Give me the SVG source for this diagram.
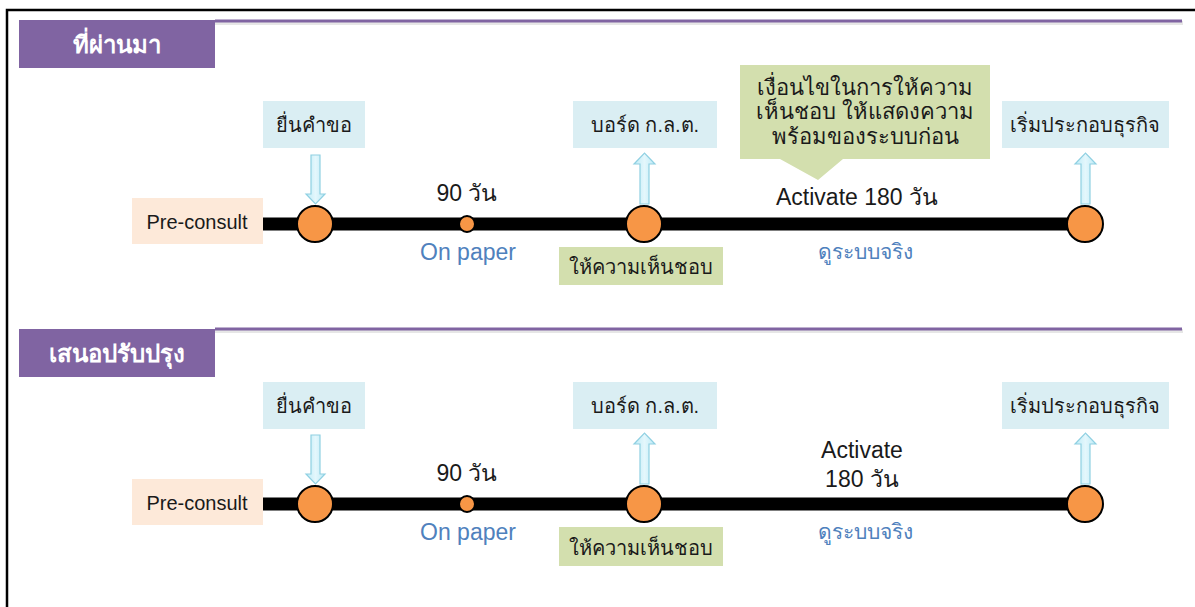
<svg xmlns="http://www.w3.org/2000/svg" width="1195" height="607" viewBox="0 0 1195 607">
<defs>
<style>
.t{font-family:Tahoma,"Liberation Sans","Noto Sans","DejaVu Sans",sans-serif;fill:#1a1a1a;text-anchor:middle}
.box{font-size:20px}
.co{font-size:22px}
.pc{font-size:20px}
.big{font-size:23px}
.blue{fill:#4F81BD;font-size:23px}
.bth{fill:#4F81BD;font-size:21px}
.hdr{font-family:Tahoma,"Liberation Sans","Noto Sans","DejaVu Sans",sans-serif;fill:#fff;font-size:24px;font-weight:bold;text-anchor:middle}
.lb{fill:#DAEEF3}
.gr{fill:#D3DFAE}
.pk{fill:#FDE9D9}
.node{fill:#F79646;stroke:#000;stroke-width:2}
.arr{fill:url(#ag);stroke:#8FD0E2;stroke-width:1.2}
.bar{stroke:#000;stroke-width:13}
.pl{stroke:#8064A2;stroke-width:3}
.sh{stroke:#E6E6E6;stroke-width:4}
</style>
<linearGradient id="ag" x1="0" y1="0" x2="1" y2="0">
<stop offset="0" stop-color="#BDEBF7"/>
<stop offset="0.5" stop-color="#E4F7FC"/>
<stop offset="1" stop-color="#BDEBF7"/>
</linearGradient>
</defs>
<rect x="0" y="0" width="1195" height="607" fill="#fff"/>
<path d="M7,607 V10 H1195" fill="none" stroke="#000" stroke-width="2.5"/>

<g id="section1-header">
<line class="sh" x1="215" y1="23" x2="1183" y2="23"/>
<line class="pl" x1="215" y1="21" x2="1182" y2="21"/>
<rect x="19" y="20" width="196" height="48" fill="#8064A2"/>
<text class="hdr" x="117" y="53">ที่ผ่านมา</text>
</g>
<g id="section2-header">
<line class="sh" x1="215" y1="331" x2="1183" y2="331"/>
<line class="pl" x1="215" y1="329" x2="1182" y2="329"/>
<rect x="19" y="329" width="196" height="48" fill="#8064A2"/>
<text class="hdr" x="117" y="362">เสนอปรับปรุง</text>
</g>

<g id="connectors">
<line class="bar" x1="263" y1="224" x2="1085" y2="224"/>
<line class="bar" x1="263" y1="504" x2="1085" y2="504"/>
<path class="arr" d="M311,155 H320 V194 H325 L315.5,204 L306,194 H311 Z"/>
<path class="arr" d="M640,204 V164 H634 L644.5,153 L655,164 H649 V204 Z"/>
<path class="arr" d="M1081,204 V164 H1075 L1085.5,153 L1096,164 H1090 V204 Z"/>
<path class="arr" d="M311,435 H320 V474 H325 L315.5,484 L306,474 H311 Z"/>
<path class="arr" d="M640,484 V444 H634 L644.5,433 L655,444 H649 V484 Z"/>
<path class="arr" d="M1081,484 V444 H1075 L1085.5,433 L1096,444 H1090 V484 Z"/>
</g>

<g id="s1-preconsult"><rect class="pk" x="132" y="198" width="131" height="46"/><text class="t pc" x="197" y="229">Pre-consult</text></g>
<g id="s1-submit"><rect class="lb" x="263" y="101" width="102" height="47"/><text class="t box" x="314" y="132">ยื่นคำขอ</text></g>
<g id="s1-board"><rect class="lb" x="573" y="101" width="144" height="47"/><text class="t box" x="645" y="132">บอร์ด ก.ล.ต.</text></g>
<g id="s1-start"><rect class="lb" x="1002" y="101" width="167" height="47"/><text class="t box" x="1085" y="132">เริ่มประกอบธุรกิจ</text></g>
<g id="s1-approve"><rect class="gr" x="559" y="247" width="164" height="38"/><text class="t box" x="641" y="274">ให้ความเห็นชอบ</text></g>
<g id="s1-callout"><path class="gr" d="M740,65 H990 V159 H843 L818,180 L780,159 H740 Z"/>
<text class="t co" x="865" y="95">เงื่อนไขในการให้ความ</text>
<text class="t co" x="865" y="119">เห็นชอบ ให้แสดงความ</text>
<text class="t co" x="865" y="144">พร้อมของระบบก่อน</text></g>
<g id="s1-n1"><circle class="node" cx="315" cy="224" r="18"/></g>
<g id="s1-n2"><circle class="node" cx="467" cy="224" r="8"/><text class="t big" x="467" y="201">90 วัน</text><text class="t blue" x="468" y="260">On paper</text></g>
<g id="s1-n3"><circle class="node" cx="644" cy="224" r="18"/></g>
<g id="s1-n4"><circle class="node" cx="1085" cy="224" r="18"/></g>
<g id="s1-activate"><text class="t big" x="857" y="205">Activate 180 วัน</text><text class="t bth" x="865" y="259">ดูระบบจริง</text></g>

<g id="s2-preconsult"><rect class="pk" x="132" y="479" width="131" height="46"/><text class="t pc" x="197" y="510">Pre-consult</text></g>
<g id="s2-submit"><rect class="lb" x="263" y="382" width="102" height="47"/><text class="t box" x="314" y="413">ยื่นคำขอ</text></g>
<g id="s2-board"><rect class="lb" x="573" y="382" width="144" height="47"/><text class="t box" x="645" y="413">บอร์ด ก.ล.ต.</text></g>
<g id="s2-start"><rect class="lb" x="1002" y="382" width="167" height="47"/><text class="t box" x="1085" y="413">เริ่มประกอบธุรกิจ</text></g>
<g id="s2-approve"><rect class="gr" x="559" y="527" width="164" height="39"/><text class="t box" x="641" y="555">ให้ความเห็นชอบ</text></g>
<g id="s2-n1"><circle class="node" cx="315" cy="504" r="18"/></g>
<g id="s2-n2"><circle class="node" cx="467" cy="504" r="8"/><text class="t big" x="467" y="481">90 วัน</text><text class="t blue" x="468" y="540">On paper</text></g>
<g id="s2-n3"><circle class="node" cx="644" cy="504" r="18"/></g>
<g id="s2-n4"><circle class="node" cx="1085" cy="504" r="18"/></g>
<g id="s2-activate"><text class="t big" x="862" y="458">Activate</text><text class="t big" x="862" y="487">180 วัน</text><text class="t bth" x="865" y="539">ดูระบบจริง</text></g>
</svg>
